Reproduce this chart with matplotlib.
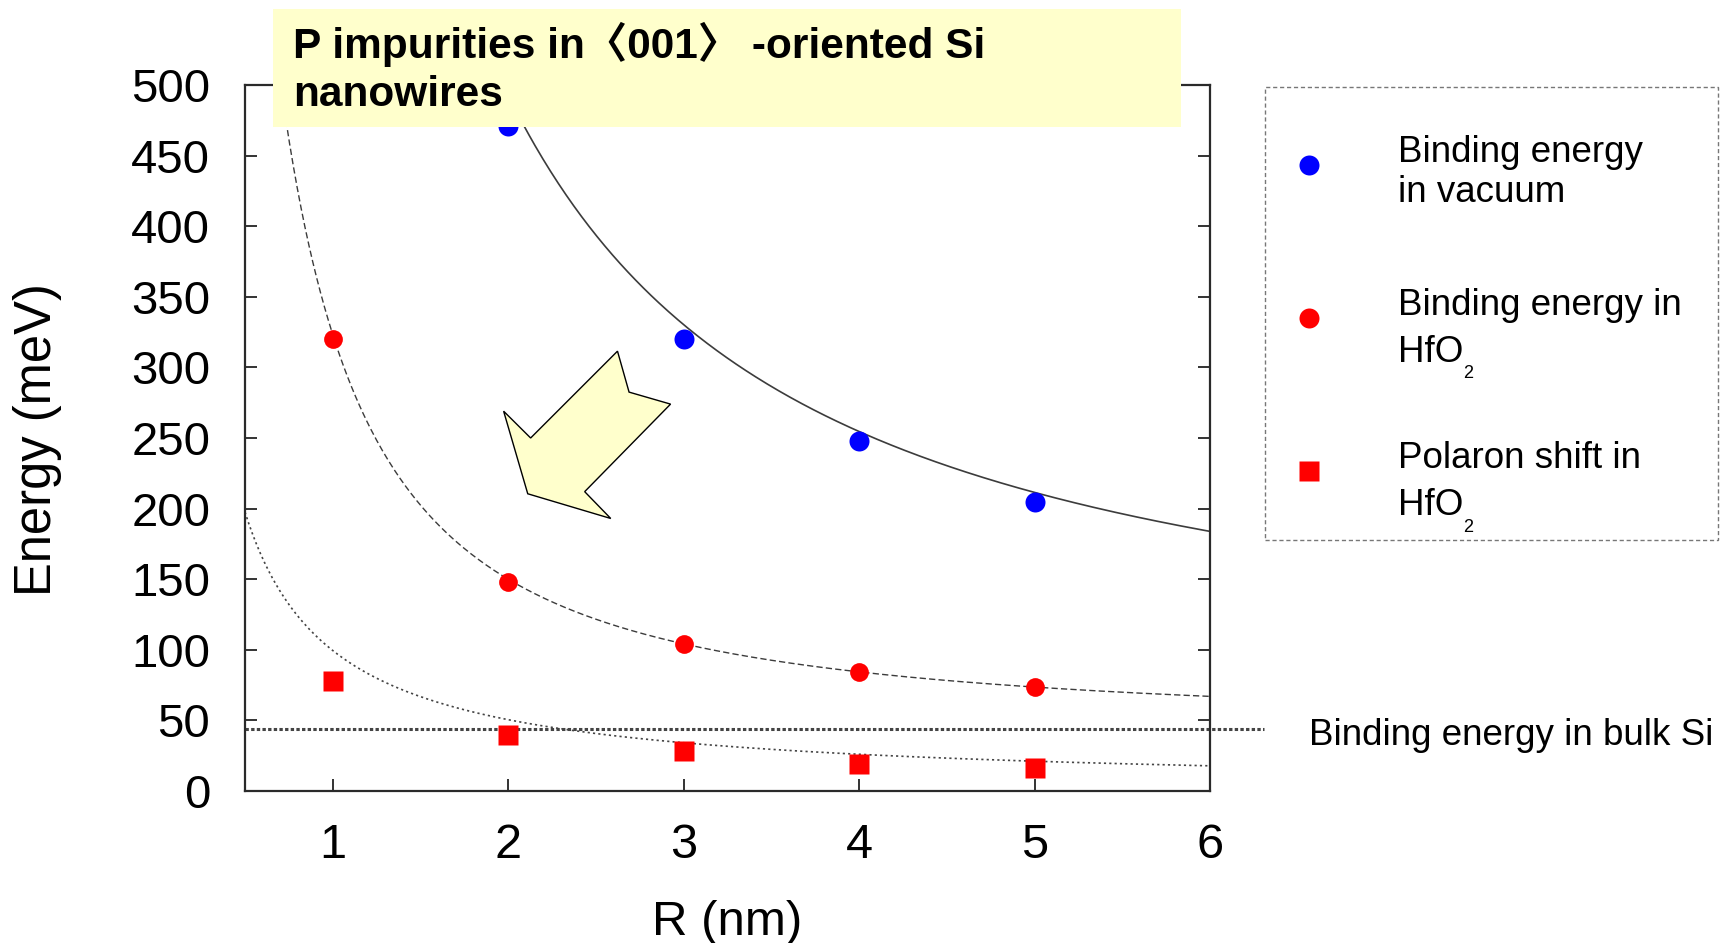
import matplotlib
matplotlib.use("Agg")
import matplotlib.pyplot as plt
import matplotlib.transforms as mtransforms
from matplotlib.patches import Rectangle, Polygon
from matplotlib.lines import Line2D
import numpy as np

# ---------------- data ----------------
vac_R = [2, 3, 4, 5]
vac_E = [471, 320, 248, 205]          # binding energy in vacuum (meV)
hfo_R = [1, 2, 3, 4, 5]
hfo_E = [320, 148, 104, 84, 74]       # binding energy in HfO2 (meV)
pol_R = [1, 2, 3, 4, 5]
pol_E = [78, 40, 28, 19, 16]          # polaron shift in HfO2 (meV)
bulk_E = 44                           # binding energy in bulk Si (meV)

# fitted guide curves  E = a / R**b + c  (parameters)
vac_fit = (969.0, 1.2, 71.0)
hfo_fit = (279.0, 1.4, 44.3)
pol_fit = (98.0, 1.0, 1.5)

x_ticks = [1, 2, 3, 4, 5, 6]
y_ticks = list(range(0, 501, 50))

title_lines = ["P impurities in\u3008001\u3009 -oriented Si", "nanowires"]
bulk_label = "Binding energy in bulk Si"
x_label = "R (nm)"
y_label = "Energy (meV)"

# ---------------- figure ----------------
W, H = 1726, 943
fig = plt.figure(figsize=(W / 100, H / 100), dpi=100)
fam = ["Liberation Sans", "DejaVu Sans"]
plt.rcParams["font.family"] = fam


def fx(px):
    return px / W


def fy(py):
    return 1 - py / H


ax_l, ax_r, ax_t, ax_b = 245, 1210, 85, 791
ax = fig.add_axes([fx(ax_l), fy(ax_b), (ax_r - ax_l) / W, (ax_b - ax_t) / H])
ax.set_xlim(0.5, 6)
ax.set_ylim(0, 500)

xs = np.linspace(0.5, 6, 500)


def fit(p, x):
    a, b, c = p
    return a / x ** b + c


line_col = "#3c3c3c"
ax.plot(xs, fit(vac_fit, xs), color=line_col, lw=1.2, zorder=2)
ax.plot(xs, fit(hfo_fit, xs), color=line_col, lw=1.0, dashes=(4.5, 2.3), zorder=2)
ax.plot(xs, fit(pol_fit, xs), color="#444444", lw=1.2, dashes=(1.3, 1.9), zorder=2)

trans = mtransforms.blended_transform_factory(ax.transAxes, ax.transData)
ax.plot([0, (1264 - ax_l) / (ax_r - ax_l)], [bulk_E, bulk_E], transform=trans,
        clip_on=False, color="#444444", lw=2.2, dashes=(1.1, 0.75), zorder=2)

ax.plot(vac_R, vac_E, "o", color="#0000ff", ms=14.4, mec="none", zorder=3)
ax.plot(hfo_R, hfo_E, "o", color="#ff0000", ms=13.5, mec="none", zorder=3)
ax.plot(pol_R, pol_E, "s", color="#ff0000", ms=14, mec="none", zorder=3)

ax.set_xticks(x_ticks)
ax.set_yticks(y_ticks)
ax.tick_params(direction="in", length=8.5, width=1.4, color="#333333",
               right=True, top=False)
ax.tick_params(axis="x", labelsize=35, pad=23)
ax.tick_params(axis="y", labelsize=34, pad=25)
for s in ax.spines.values():
    s.set_linewidth(1.6)
    s.set_color("#2a2a2a")

# axis labels
fig.text(fx(727), fy(935), x_label, fontsize=35.5, ha="center", va="baseline")
fig.text(fx(38), fy(440), y_label, fontsize=36.5, rotation=90, ha="center", va="center")

# big yellow arrow (axes fraction)
arrow_pts = [(0.386, 0.623), (0.398, 0.565), (0.441, 0.548), (0.352, 0.424),
             (0.379, 0.386), (0.293, 0.421), (0.268, 0.538), (0.296, 0.500)]
ax.add_patch(Polygon(arrow_pts, closed=True, transform=ax.transAxes,
                     facecolor="#ffffcc", edgecolor="black", lw=1.0, zorder=5))

# title box
fig.add_artist(Rectangle((fx(273), fy(127)), (1181 - 273) / W, (127 - 9) / H,
                         transform=fig.transFigure, facecolor="#ffffcc",
                         edgecolor="none", zorder=10))
tfam = ["Liberation Sans", "Noto Sans CJK JP", "DejaVu Sans"]
fig.text(fx(293), fy(58), title_lines[0], fontsize=30.5, weight="bold",
         family=tfam, va="baseline", zorder=11)
fig.text(fx(293), fy(106), title_lines[1], fontsize=30.5, weight="bold",
         family=tfam, va="baseline", zorder=11)

# legend box
fig.add_artist(Rectangle((fx(1265), fy(540)), (1718 - 1265) / W, (540 - 87) / H,
                         transform=fig.transFigure, facecolor="none",
                         edgecolor="#777777", lw=1.0, linestyle=(0, (3, 2)),
                         zorder=10))
leg_items = [
    ("o", "#0000ff", 14.4, 164.7, ["Binding energy", "in vacuum"], False),
    ("o", "#ff0000", 14.4, 318.0, ["Binding energy in", "HfO"], True),
    ("s", "#ff0000", 14.0, 471.3, ["Polaron shift in", "HfO"], True),
]
for mk, col, ms, ym, lines, sub in leg_items:
    fig.add_artist(Line2D([fx(1309)], [fy(ym)], marker=mk, color=col, ms=ms,
                          mec="none", linestyle="none",
                          transform=fig.transFigure, zorder=11))
    b1 = ym - 3.0
    b2 = b1 + (40 if not sub else 46.7)
    fig.text(fx(1398), fy(b1), lines[0], fontsize=26.5, va="baseline", zorder=11)
    fig.text(fx(1398), fy(b2), lines[1], fontsize=26.5, va="baseline", zorder=11)
    if sub:
        fig.text(fx(1463), fy(b2 + 16.5), "2", fontsize=13, va="baseline", zorder=11)

# bulk Si label
fig.text(fx(1309), fy(745), bulk_label, fontsize=26.5, va="baseline")

fig.savefig("out.png", dpi=100)
